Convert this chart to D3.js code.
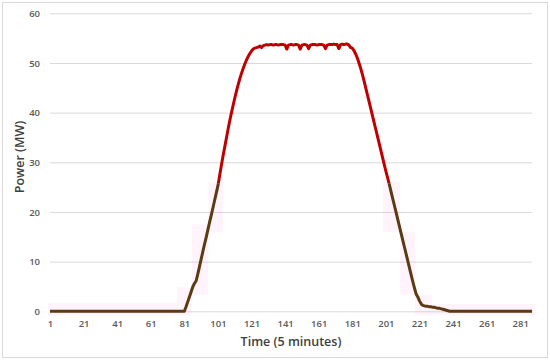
<!DOCTYPE html>
<html>
<head>
<meta charset="utf-8">
<script src="https://cdn.jsdelivr.net/npm/d3@7"></script>
<style>
  body { margin: 0; background: #fff; }
  text { font-family: "Open Sans", sans-serif; }
</style>
</head>
<body>
<div id="chart"></div>
<script>
// power in MW, one value per 5-minute interval (1..288)
var power = [
  0,0,0,0,0,0,0,0,0,0, 0,0,0,0,0,0,0,0,0,0,
  0,0,0,0,0,0,0,0,0,0, 0,0,0,0,0,0,0,0,0,0,
  0,0,0,0,0,0,0,0,0,0, 0,0,0,0,0,0,0,0,0,0,
  0,0,0,0,0,0,0,0,0,0, 0,0,0,0,0,0,0,0,0,0,
  0,0.9,1.9,2.9,3.9,4.9,5.6,6.1,7.5,9.0,            // 81-90
  10.5,12.0,13.5,14.9,16.4,17.9,19.3,20.8,22.3,23.8, // 91-100
  25.3,27.3,29.3,31.2,33.0,34.8,36.6,38.3,39.9,41.4, // 101-110
  42.9,44.3,45.6,46.8,47.9,48.9,49.8,50.6,51.3,51.9, // 111-120
  52.4,52.8,53.0,53.1,53.2,53.4,53.1,53.5,53.6,53.7, // 121-130
  53.6,53.7,53.7,53.6,53.7,53.7,53.6,53.7,53.7,53.7, // 131-140
  53.6,52.8,53.6,53.7,53.7,53.6,53.7,53.7,53.6,52.8, // 141-150
  53.6,53.7,53.7,53.6,52.9,53.6,53.7,53.7,53.7,53.6, // 151-160
  53.7,53.7,53.7,53.6,52.9,53.6,53.7,53.7,53.7,53.8, // 161-170
  53.7,53.7,52.9,53.7,53.8,53.7,53.8,53.8,53.6,53.1, // 171-180
  53.0,52.5,51.8,51.0,50.0,48.9,47.7,46.4,45.0,43.6, // 181-190
  42.2,40.8,39.4,38.0,36.6,35.2,33.8,32.4,31.0,29.6, // 191-200
  28.2,26.9,25.6,24.2,22.8,21.4,20.0,18.6,17.2,15.8, // 201-210
  14.4,13.0,11.6,10.2,8.8,7.4,6.0,4.7,3.5,2.9,       // 211-220
  2.1,1.5,1.2,1.1,1.0,1.0,0.9,0.9,0.8,0.8,           // 221-230
  0.7,0.6,0.6,0.5,0.4,0.3,0.2,0.1,0,0,               // 231-240
  0,0,0,0,0,0,0,0,0,0, 0,0,0,0,0,0,0,0,0,0,
  0,0,0,0,0,0,0,0,0,0, 0,0,0,0,0,0,0,0,0,0,
  0,0,0,0,0,0,0,0
];

// faint shaded boxes behind the curve: interval start, end, low, high
var bandStart = [-0.2, 76.5, 85.4, 95.3, 199.3, 209.5, 218.4, 228.5];
var bandEnd   = [76.5, 85.4, 95.3, 104.0, 209.5, 218.4, 228.5, 289.9];
var bandLow   = [-0.8, -0.8, 3.3, 16.0, 16.0, 3.3, -0.8, -0.8];
var bandHigh  = [1.7, 4.8, 17.5, 26.0, 26.0, 16.0, 3.3, 1.5];

var xTicks = [1, 21, 41, 61, 81, 101, 121, 141, 161, 181, 201, 221, 241, 261, 281];
var yTicks = [0, 10, 20, 30, 40, 50, 60];
var colorSplit = 25.8;   // line turns red above this value

var width = 550, height = 362;
var x = d3.scaleLinear().domain([1, 288]).range([50, 532]),
    y = d3.scaleLinear().domain([0, 60]).range([311.3, 13.3]);

var svg = d3.select("#chart").append("svg")
    .attr("width", width)
    .attr("height", height);

// outer border
svg.append("rect")
    .attr("x", 2.5).attr("y", 2.5)
    .attr("width", 545).attr("height", 355)
    .attr("fill", "#fff")
    .attr("stroke", "#d9d9d9");

// gridlines + y labels
var yAxis = svg.append("g")
    .attr("transform", "translate(50,0)")
    .call(d3.axisLeft(y).tickValues(yTicks).tickSize(-482).tickPadding(10));
yAxis.select(".domain").remove();
yAxis.selectAll("line").attr("stroke", "#d9d9d9");
yAxis.selectAll("text")
    .attr("fill", "#595959")
    .style("font-size", "9.5px")
    .style("font-weight", 600);

// shaded boxes
svg.append("g").selectAll("rect")
    .data(bandStart)
    .join("rect")
    .attr("x", function(d, i) { return x(d); })
    .attr("width", function(d, i) { return x(bandEnd[i]) - x(d); })
    .attr("y", function(d, i) { return y(bandHigh[i]); })
    .attr("height", function(d, i) { return y(bandLow[i]) - y(bandHigh[i]); })
    .attr("fill", "#ff66cc")
    .attr("fill-opacity", 0.07);

// x labels
var xAxis = svg.append("g")
    .attr("transform", "translate(0," + y(0) + ")")
    .call(d3.axisBottom(x).tickValues(xTicks).tickSize(0).tickPadding(9).tickFormat(d3.format("d")));
xAxis.select(".domain").remove();
xAxis.selectAll("text")
    .attr("fill", "#595959")
    .style("font-size", "9.5px")
    .style("font-weight", 600);

// clip regions for the two line colours
var defs = svg.append("defs");
defs.append("clipPath").attr("id", "above")
  .append("rect")
    .attr("x", 0).attr("y", 0)
    .attr("width", width).attr("height", y(colorSplit));
defs.append("clipPath").attr("id", "below")
  .append("rect")
    .attr("x", 0).attr("y", y(colorSplit))
    .attr("width", width).attr("height", height - y(colorSplit));

var line = d3.line()
    .x(function(d, i) { return x(i + 1); })
    .y(function(d) { return y(d); });

svg.append("path")
    .datum(power)
    .attr("clip-path", "url(#below)")
    .attr("fill", "none")
    .attr("stroke", "#5c3a12")
    .attr("stroke-width", 3)
    .attr("stroke-linejoin", "round")
    .attr("d", line);

svg.append("path")
    .datum(power)
    .attr("clip-path", "url(#above)")
    .attr("fill", "none")
    .attr("stroke", "#c00000")
    .attr("stroke-width", 3)
    .attr("stroke-linejoin", "round")
    .attr("d", line);

// axis titles
svg.append("text")
    .attr("x", 291)
    .attr("y", 346)
    .attr("text-anchor", "middle")
    .attr("fill", "#404040")
    .style("font-size", "12.5px")
    .style("font-weight", 600)
    .text("Time (5 minutes)");

svg.append("text")
    .attr("transform", "translate(24,157) rotate(-90)")
    .attr("text-anchor", "middle")
    .attr("fill", "#404040")
    .style("font-size", "12.5px")
    .style("font-weight", 600)
    .text("Power (MW)");
</script>
</body>
</html>
